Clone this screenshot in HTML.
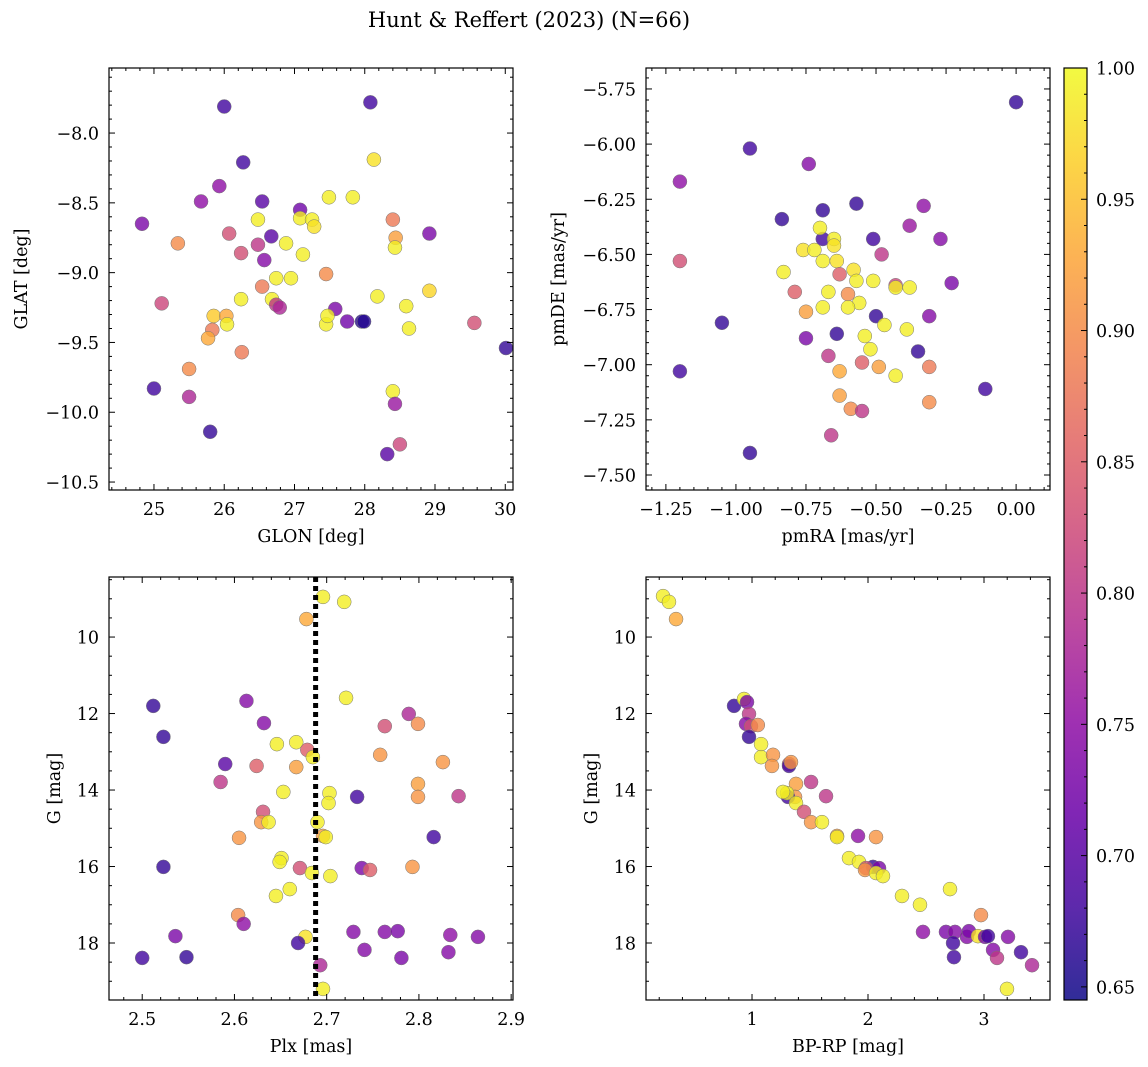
<!DOCTYPE html>
<html><head><meta charset="utf-8"><style>
html,body{margin:0;padding:0;background:#fff;}
svg{display:block;font-family:"DejaVu Serif","Liberation Serif",serif;}
</style></head><body>
<svg id="chart" width="1148" height="1067" viewBox="0 0 1148 1067" xmlns="http://www.w3.org/2000/svg">
<text x="529" y="27" text-anchor="middle" font-size="21">Hunt &amp; Reffert (2023) (N=66)</text>
</svg>
<script>
// ---- data: top-left (GLON/GLAT)
const glon=[26.0,28.08,26.27,28.13,24.83,25.67,25.93,26.54,27.08,27.49,27.83,26.48,26.67,27.08,27.25,27.28,28.40,28.44,28.43,28.92,25.34,26.07,26.88,27.12,26.48,26.57,26.24,26.54,26.74,26.95,27.45,25.11,25.85,26.03,26.04,26.24,26.68,26.74,26.79,25.83,25.77,26.25,27.58,27.75,27.96,27.99,27.45,27.47,28.18,28.59,28.63,28.92,29.56,30.01,25.0,25.50,25.50,28.40,28.43,25.80,28.50,28.32];
const glat=[-7.81,-7.78,-8.21,-8.19,-8.65,-8.49,-8.38,-8.49,-8.55,-8.46,-8.46,-8.62,-8.74,-8.61,-8.62,-8.67,-8.62,-8.75,-8.82,-8.72,-8.79,-8.72,-8.79,-8.87,-8.80,-8.91,-8.86,-9.10,-9.04,-9.04,-9.01,-9.22,-9.31,-9.31,-9.37,-9.19,-9.19,-9.23,-9.25,-9.41,-9.47,-9.57,-9.26,-9.35,-9.35,-9.35,-9.37,-9.31,-9.17,-9.24,-9.40,-9.13,-9.36,-9.54,-9.83,-9.69,-9.89,-9.85,-9.94,-10.14,-10.23,-10.30];
const probA=[0.68,0.68,0.68,0.98,0.73,0.75,0.75,0.70,0.72,0.99,0.99,0.99,0.70,0.99,0.99,0.98,0.88,0.92,0.99,0.73,0.90,0.83,0.99,0.99,0.80,0.74,0.83,0.88,0.99,0.99,0.90,0.82,0.96,0.93,0.99,0.99,0.99,0.80,0.78,0.88,0.93,0.88,0.73,0.72,0.66,0.66,0.99,0.99,0.99,0.99,0.99,0.97,0.83,0.67,0.68,0.90,0.78,0.99,0.76,0.67,0.82,0.70];
// ---- top-right (pmRA/pmDE)
const pmra=[0.00,-0.95,-0.74,-1.20,-0.836,-0.69,-0.57,-0.33,-0.38,-0.27,-0.51,-0.69,-0.70,-0.65,-0.65,-0.76,-0.72,-0.69,-0.64,-1.20,-0.83,-0.63,-0.58,-0.48,-0.51,-0.57,-0.67,-0.60,-0.79,-0.43,-0.43,-0.38,-0.23,-0.56,-0.60,-0.69,-0.50,-0.31,-0.75,-1.05,-0.47,-0.39,-0.64,-0.54,-0.75,-0.35,-0.52,-0.67,-0.55,-0.31,-0.49,-0.63,-0.43,-0.11,-1.20,-0.63,-0.31,-0.59,-0.55,-0.66,-0.95];
const pmde=[-5.81,-6.02,-6.09,-6.17,-6.34,-6.30,-6.27,-6.28,-6.37,-6.43,-6.43,-6.43,-6.38,-6.43,-6.46,-6.48,-6.48,-6.53,-6.53,-6.53,-6.58,-6.59,-6.57,-6.50,-6.62,-6.62,-6.67,-6.68,-6.67,-6.64,-6.65,-6.65,-6.63,-6.72,-6.74,-6.74,-6.78,-6.78,-6.76,-6.81,-6.82,-6.84,-6.86,-6.87,-6.88,-6.94,-6.93,-6.96,-6.99,-7.01,-7.01,-7.03,-7.05,-7.11,-7.03,-7.14,-7.17,-7.20,-7.21,-7.32,-7.40];
const probB=[0.67,0.68,0.74,0.75,0.67,0.67,0.67,0.75,0.76,0.74,0.68,0.68,0.99,0.99,0.98,0.98,0.99,0.99,0.98,0.83,0.99,0.85,0.98,0.80,0.99,0.99,0.99,0.90,0.85,0.82,0.99,0.99,0.73,0.99,0.99,0.99,0.67,0.74,0.92,0.67,0.99,0.99,0.67,0.99,0.73,0.67,0.99,0.80,0.85,0.88,0.92,0.93,0.99,0.68,0.68,0.92,0.90,0.90,0.80,0.80,0.67];
// ---- bottom-left (Plx/G)
const plx=[2.696,2.719,2.678,2.512,2.613,2.721,2.789,2.799,2.763,2.523,2.632,2.646,2.667,2.679,2.685,2.758,2.590,2.624,2.667,2.826,2.585,2.799,2.799,2.843,2.733,2.703,2.702,2.653,2.631,2.629,2.637,2.690,2.696,2.699,2.605,2.816,2.651,2.649,2.523,2.671,2.738,2.747,2.793,2.684,2.704,2.660,2.645,2.604,2.610,2.536,2.729,2.763,2.777,2.834,2.864,2.677,2.669,2.741,2.832,2.500,2.548,2.781,2.693,2.696];
const gmagL=[8.95,9.08,9.53,11.80,11.67,11.59,12.01,12.27,12.33,12.61,12.25,12.80,12.75,12.95,13.14,13.08,13.32,13.37,13.40,13.27,13.79,13.84,14.18,14.16,14.18,14.08,14.34,14.05,14.57,14.84,14.84,14.84,15.20,15.23,15.25,15.23,15.78,15.88,16.01,16.04,16.04,16.09,16.01,16.17,16.25,16.59,16.77,17.27,17.50,17.82,17.71,17.71,17.69,17.79,17.84,17.84,18.0,18.18,18.24,18.39,18.37,18.39,18.58,19.20];
const probC=[0.99,0.99,0.93,0.67,0.74,0.99,0.78,0.90,0.83,0.67,0.74,0.99,0.99,0.85,0.99,0.91,0.70,0.85,0.92,0.91,0.80,0.92,0.91,0.80,0.68,0.99,0.99,0.99,0.83,0.91,0.99,0.99,0.92,0.99,0.91,0.68,0.99,0.99,0.67,0.83,0.73,0.85,0.91,0.99,0.99,0.99,0.99,0.90,0.75,0.73,0.74,0.74,0.73,0.75,0.74,0.98,0.68,0.74,0.74,0.68,0.67,0.73,0.78,0.99];
// ---- bottom-right (BP-RP/G)
const bprp=[0.233,0.284,0.345,0.845,0.931,0.957,0.974,0.948,0.991,1.05,0.974,1.078,1.078,1.181,1.172,1.319,1.319,1.336,1.509,1.379,1.371,1.638,1.310,1.302,1.379,1.267,1.448,1.509,1.603,1.733,1.733,2.069,1.914,1.836,1.922,2.043,1.983,2.095,1.974,2.069,2.129,2.707,2.293,2.448,2.974,2.474,2.672,2.75,2.853,2.87,2.948,3.009,3.034,3.207,2.733,2.741,3.078,3.319,3.112,3.414,3.198];
const gmagR=[8.93,9.08,9.53,11.80,11.62,11.70,12.01,12.27,12.33,12.30,12.61,12.80,13.14,13.08,13.37,13.32,13.37,13.27,13.79,13.84,14.18,14.16,14.18,14.08,14.34,14.05,14.57,14.84,14.84,15.20,15.23,15.23,15.20,15.78,15.88,16.01,16.04,16.04,16.09,16.17,16.25,16.59,16.77,17.00,17.27,17.71,17.71,17.71,17.84,17.69,17.82,17.84,17.82,17.84,18.0,18.37,18.18,18.24,18.39,18.58,19.20];
const probD=[0.99,0.99,0.93,0.67,0.99,0.73,0.80,0.74,0.83,0.90,0.67,0.99,0.99,0.91,0.91,0.83,0.68,0.91,0.80,0.92,0.91,0.80,0.68,0.99,0.99,0.99,0.83,0.91,0.99,0.92,0.99,0.91,0.75,0.99,0.99,0.67,0.83,0.73,0.91,0.99,0.99,0.99,0.99,0.99,0.90,0.75,0.73,0.74,0.74,0.73,0.98,0.73,0.68,0.74,0.68,0.68,0.74,0.68,0.80,0.78,0.99];
const plxLine=2.688;
const cbTicks=[0.65,0.70,0.75,0.80,0.85,0.90,0.95,1.00];
const vmin=0.645, vmax=1.0;

const NS='http://www.w3.org/2000/svg';
const svg=document.getElementById('chart');
function mk(tag,attrs,parent){const e=document.createElementNS(NS,tag);for(const k in attrs)e.setAttribute(k,attrs[k]);(parent||svg).appendChild(e);return e;}
const stops=['#0d0887','#41049d','#6a00a8','#8f0da4','#b12a90','#cc4778','#e16462','#f2844b','#fca636','#fcce25','#f0f921'];
function hex(h){return [1,3,5].map(i=>parseInt(h.substr(i,2),16));}
function plasma(v){let t=(v-vmin)/(vmax-vmin);t=Math.max(0,Math.min(1,t));const p=t*10,i=Math.min(9,Math.floor(p)),f=p-i;const a=hex(stops[i]),b=hex(stops[i+1]);return 'rgb('+a.map((c,j)=>Math.round(c+(b[j]-c)*f)).join(',')+')';}
const FS=17.5;
function panel(cfg){
  const {x0,y0,w,h,xmin,xmax,ymin,ymax,name}=cfg;
  const g=mk('g',{});
  
  
  const sx=v=>x0+(v-xmin)/(xmax-xmin)*w;
  const sy=v=>cfg.invert? y0+(v-ymin)/(ymax-ymin)*h : y0+h-(v-ymin)/(ymax-ymin)*h;
  const cp='cp'+name;
  const c=mk('clipPath',{id:cp},g);mk('rect',{x:x0,y:y0,width:w,height:h},c);
  const pts=mk('g',{'clip-path':'url(#'+cp+')'},g);
  
  
  cfg.xs.forEach((xv,i)=>{
    const d=mk('circle',{cx:sx(xv),cy:sy(cfg.ys[i]),r:7,fill:plasma(cfg.cs[i]),'fill-opacity':0.8,stroke:'#777','stroke-width':0.5},pts);
    
    
  });
  if(cfg.vline!==undefined){
    const l=mk('line',{x1:sx(cfg.vline),x2:sx(cfg.vline),y1:y0,y2:y0+h,stroke:'#000','stroke-width':5,'stroke-dasharray':'5,4'},pts);
    
    
  }
  mk('rect',{x:x0,y:y0,width:w,height:h,fill:'none',stroke:'#000','stroke-width':1.2},g);
  const eps=1e-9;
  for(let v=Math.ceil(xmin/cfg.xminor-eps)*cfg.xminor;v<=xmax+eps;v+=cfg.xminor){
    const X=sx(v);const major=Math.abs(v/cfg.xmajor-Math.round(v/cfg.xmajor))<1e-6;const L=major?6:3;
    mk('line',{x1:X,x2:X,y1:y0+h,y2:y0+h-L,stroke:'#000','stroke-width':1},g);
    mk('line',{x1:X,x2:X,y1:y0,y2:y0+L,stroke:'#000','stroke-width':1},g);
    if(major){const t=mk('text',{x:X,y:y0+h+25,'text-anchor':'middle','font-size':FS},g);t.textContent=cfg.xfmt(v).replace('-','\u2212');
      }
  }
  for(let v=Math.ceil(ymin/cfg.yminor-eps)*cfg.yminor;v<=ymax+eps;v+=cfg.yminor){
    const Y=sy(v);const major=Math.abs(v/cfg.ymajor-Math.round(v/cfg.ymajor))<1e-6;const L=major?6:3;
    mk('line',{x1:x0,x2:x0+L,y1:Y,y2:Y,stroke:'#000','stroke-width':1},g);
    mk('line',{x1:x0+w,x2:x0+w-L,y1:Y,y2:Y,stroke:'#000','stroke-width':1},g);
    if(major){const t=mk('text',{x:x0-10,y:Y+6.5,'text-anchor':'end','font-size':FS},g);t.textContent=cfg.yfmt(v).replace('-','\u2212');
      }
  }
  const xt=mk('text',{x:x0+w/2,y:y0+h+52,'text-anchor':'middle','font-size':FS},g);xt.textContent=cfg.xlabel;
  
  const yx=cfg.ylabx;
  const yt=mk('text',{x:yx,y:y0+h/2,'text-anchor':'middle','font-size':FS,transform:'rotate(-90 '+yx+' '+(y0+h/2)+')'},g);yt.textContent=cfg.ylabel;
  
}
const f0=v=>String(Math.round(v)), f1=v=>v.toFixed(1), f2=v=>v.toFixed(2);
panel({name:'glon-glat-panel',x0:109,y0:68,w:404,h:422,xmin:24.36,xmax:30.11,ymin:-10.557,ymax:-7.534,xmajor:1,xminor:0.2,ymajor:0.5,yminor:0.1,xfmt:f0,yfmt:f1,xs:glon,ys:glat,cs:probA,xlabel:'GLON [deg]',ylabel:'GLAT [deg]',ylabx:27});
panel({name:'pm-panel',x0:646,y0:68,w:404,h:422,xmin:-1.321,xmax:0.121,ymin:-7.568,ymax:-5.655,xmajor:0.25,xminor:0.05,ymajor:0.25,yminor:0.05,xfmt:f2,yfmt:f2,xs:pmra,ys:pmde,cs:probB,xlabel:'pmRA [mas/yr]',ylabel:'pmDE [mas/yr]',ylabx:564});
panel({name:'plx-g-panel',x0:109,y0:577,w:404,h:423,xmin:2.464,xmax:2.902,ymin:8.43,ymax:19.49,invert:true,xmajor:0.1,xminor:0.02,ymajor:2,yminor:0.5,xfmt:f1,yfmt:f0,xs:plx,ys:gmagL,cs:probC,xlabel:'Plx [mas]',ylabel:'G [mag]',ylabx:60,vline:plxLine});
panel({name:'cmd-panel',x0:646,y0:577,w:404,h:423,xmin:0.086,xmax:3.569,ymin:8.43,ymax:19.49,invert:true,xmajor:1,xminor:0.2,ymajor:2,yminor:0.5,xfmt:f0,yfmt:f0,xs:bprp,ys:gmagR,cs:probD,xlabel:'BP-RP [mag]',ylabel:'G [mag]',ylabx:597});
// colorbar
const cb=mk('g',{});


const defs=mk('defs',{},cb);
const lg=mk('linearGradient',{id:'cbg',x1:0,y1:1,x2:0,y2:0},defs);
stops.forEach((s,i)=>mk('stop',{offset:i/10,'stop-color':s},lg));
const cx0=1064,cw=23,cy0=68,ch=932;
mk('rect',{x:cx0,y:cy0,width:cw,height:ch,fill:'url(#cbg)','fill-opacity':0.85},cb);
mk('rect',{x:cx0,y:cy0,width:cw,height:ch,fill:'none',stroke:'#000','stroke-width':1.2},cb);
const cy=v=>cy0+ch-(v-vmin)/(vmax-vmin)*ch;
for(let v=0.65;v<=1.0001;v+=0.01){const Y=cy(v);const major=Math.abs(v*20-Math.round(v*20))<1e-6;
  mk('line',{x1:cx0+cw,x2:cx0+cw-(major?6:3),y1:Y,y2:Y,stroke:'#000','stroke-width':1},cb);}
cbTicks.forEach(v=>{const t=mk('text',{x:cx0+cw+9,y:cy(v)+6.5,'font-size':FS},cb);t.textContent=v.toFixed(2);
  });
</script>
</body></html>
